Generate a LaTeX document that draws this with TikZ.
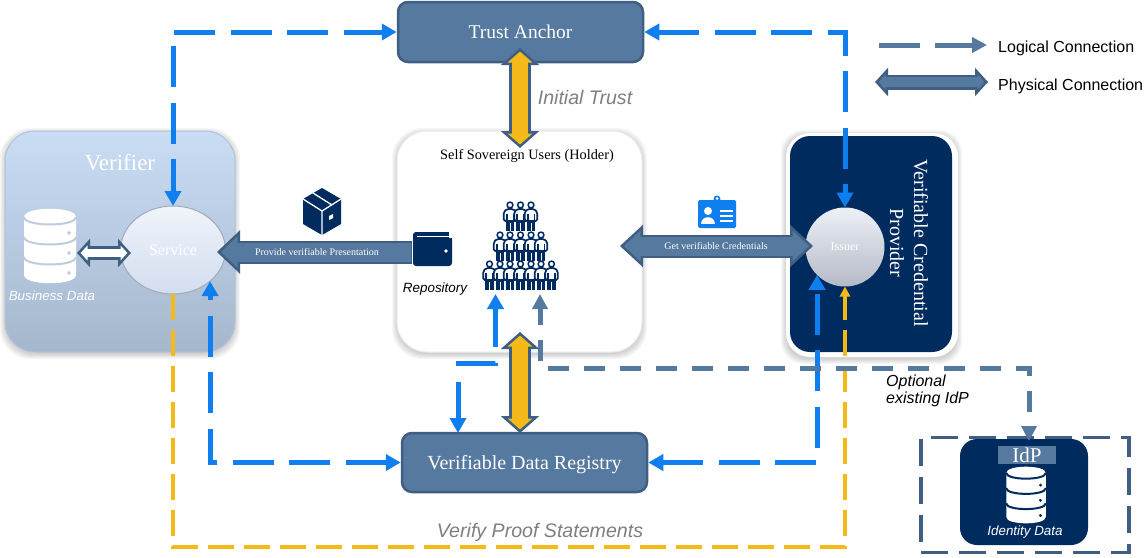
\documentclass[tikz,border=0pt]{standalone}
\usepackage{fontspec}
\setmainfont{Liberation Serif}
\setsansfont{Liberation Sans}
\usetikzlibrary{arrows.meta,calc,shapes.geometric}
\definecolor{navy}{HTML}{002B5F}
\definecolor{steel}{HTML}{55799F}
\definecolor{edge}{HTML}{3F5F82}
\definecolor{blueln}{HTML}{0F7FEF}
\definecolor{gold}{HTML}{F3BA1A}
\definecolor{graytx}{HTML}{7F7F7F}
\newcommand\fs[1]{\fontsize{#1}{#1}\selectfont}
\newcommand\softshadow[5]{\foreach \sk in {1,...,6}{\fill[black,opacity=0.03,rounded corners=#5pt] (#1-\sk+1,#2-\sk+3) rectangle (#3+\sk-1,#4+\sk+1);}}
% two-headed block arrow: fill, edge, outer shaft, inner shaft, head length, head width, path
\newcommand\blockpair[7]{%
 \draw[line width=#3pt,#2,{Triangle[length=#5pt,width=#6pt,fill=#1,line width=2.5pt]}-{Triangle[length=#5pt,width=#6pt,fill=#1,line width=2.5pt]}] #7;
 \draw[line width=#4pt,#1,shorten <=#5pt-6pt,shorten >=#5pt-6pt] #7;}
\newcommand\blockone[7]{%
 \draw[line width=#3pt,#2,-{Triangle[length=#5pt,width=#6pt,fill=#1,line width=2.5pt]}] #7;
 \draw[line width=#4pt,#1,shorten <=1.5pt,shorten >=#5pt-6pt] #7;}
\newcommand\dbicon[3]{% x, y, line colour
 \begin{scope}[shift={(#1,#2)},scale=#3]
 \fill[white] (-26,-29) .. controls (-26,-40) and (26,-40) .. (26,-29) -- (26,29) .. controls (26,40) and (-26,40) .. (-26,29) -- cycle;
 \foreach \dy in {-29,-9,11}{
  \draw[dbline,line width=2pt,fill=none] (-26,\dy) .. controls (-26,\dy+10) and (26,\dy+10) .. (26,\dy);}
 \foreach \dy in {-13,7,27}{\fill[dbline] (19,\dy) circle (1.7);}
 \end{scope}}
\newcommand\person[2]{%
 \begin{scope}[shift={(#1,#2)}]
 \fill[navy] (-4.2,2) rectangle (4.2,15);
 \draw[white,line width=.6pt] (0,7) -- (0,15);
 \draw[navy,fill=white,line width=1.7pt,rounded corners=1.5pt] (-3,-7) -- (3,-7) -- (6.2,-4) -- (6.2,5) -- (-6.2,5) -- (-6.2,-4) -- cycle;
 \draw[navy,line width=1.8pt] (-3.4,-2) -- (-3.4,5) (3.4,-2) -- (3.4,5);
 \draw[navy,fill=white,line width=1.5pt] (0,-11) circle (2.9);
 \end{scope}}
\tikzset{
 x=1pt,y=-1pt,
 boxnode/.style={rectangle,rounded corners=10pt,draw=edge,line width=2.5pt,fill=steel,text=white,inner sep=0pt,text height=13pt,text depth=0pt},
 bluelink/.style={blueln,line width=5pt,dash pattern=on 41pt off 15.5pt,{Triangle[length=15pt,width=16pt]}-{Triangle[length=15pt,width=16pt]}},
 steellink/.style={steel,line width=5pt,dash pattern=on 21pt off 15pt},
 goldlink/.style={gold,line width=3.3pt,dash pattern=on 26pt off 10pt,-{Triangle[length=10pt,width=10pt]}},
 tip15/.style={-{Triangle[length=15pt,width=15pt]}},
 label/.style={inner sep=0pt,font=\sffamily\itshape\fs{13.4}},
 biglabel/.style={inner sep=0pt,font=\sffamily\itshape\fs{19.6},text=graytx},
 legendtext/.style={inner sep=0pt,anchor=west,font=\sffamily\fs{16}},
 dbline/.style={},
}
\begin{document}
\begin{tikzpicture}
\useasboundingbox (0,0) rectangle (1148,557);
\fill[white] (0,0) rectangle (1148,557);
% containers
\softshadow{5}{131}{235}{352}{30}
\softshadow{397}{131}{642}{352}{30}
\softshadow{786}{133}{957}{357}{22}
\node[rectangle,rounded corners=30pt,minimum width=230pt,minimum height=221pt,inner sep=0pt,outer sep=0pt,top color={rgb,255:red,201;green,221;blue,244},bottom color={rgb,255:red,165;green,183;blue,205},draw={rgb,255:red,178;green,195;blue,215},line width=1pt] (verifier) at (120,241.5) {};
\node[rectangle,rounded corners=30pt,minimum width=245pt,minimum height=221pt,fill=white,draw=black!8,line width=1pt,inner sep=0pt,outer sep=0pt] (holder) at (519.5,241.5) {};
\node[rectangle,rounded corners=24pt,minimum width=172pt,minimum height=224pt,fill=white,inner sep=0pt,outer sep=0pt] (vcpouter) at (872,245) {};
\node[rectangle,rounded corners=20pt,minimum width=162pt,minimum height=216pt,fill=navy,inner sep=0pt,outer sep=0pt] (vcp) at (871,244) {};
\node[draw=edge,line width=3.6pt,dash pattern=on 27pt off 11pt,rectangle,minimum width=208pt,minimum height=115pt,inner sep=0pt,outer sep=0pt] (idpbox) at (1025,495) {};
\node[rectangle,rounded corners=17pt,minimum width=128pt,minimum height=106pt,fill=navy,inner sep=0pt,outer sep=0pt] (idpnavy) at (1024,492) {};
\node[rectangle,minimum width=58pt,minimum height=18pt,fill=steel,inner sep=0pt,text=white,font=\fs{21}] (idplabel) at (1027,455) {IdP};
% main boxes
\node[boxnode,font=\fs{19.5},minimum width=245pt,minimum height=60pt] (trust) at (520.5,32) {Trust Anchor};
\node[boxnode,font=\fs{20},minimum width=245pt,minimum height=59pt] (vdr) at (524.5,462.5) {Verifiable Data Registry};
% service and issuer
\node[ellipse,minimum width=105pt,minimum height=88pt,inner sep=0pt,outer sep=0pt,top color={rgb,255:red,240;green,244;blue,251},bottom color={rgb,255:red,210;green,221;blue,239},draw={rgb,255:red,160;green,170;blue,185},line width=1pt,text=white,font=\fs{16}] (service) at (173,250) {Service};
\node[circle,minimum size=79pt,inner sep=0pt,outer sep=0pt,top color={rgb,255:red,238;green,240;blue,246},bottom color={rgb,255:red,180;green,186;blue,200},text=white,font=\fs{12}] (issuer) at (845,247) {Issuer};
% icons
\tikzset{dbline/.style={draw={rgb,255:red,190;green,204;blue,222},fill={rgb,255:red,190;green,204;blue,222}}}
\dbicon{50}{246}{1}
\tikzset{dbline/.style={draw=navy,fill=navy}}
\dbicon{1026}{495}{.76}
\node[label,text=white] (bizlabel) at (52,296) {Business Data};
\node[label,text=white] (idlabel) at (1025,532) {Identity Data};
% free ends
\coordinate (uBlue) at (495.5,294);
\coordinate (uBlueC) at (495.5,363.5);
\coordinate (uBlueL) at (458,363.5);
\coordinate (vBlue) at (458,433);
\coordinate (uSteel) at (540,294);
\coordinate (uSteelC) at (540,368);
\coordinate (idpC) at (1029,368);
\coordinate (idpTip) at (1029,441);
\coordinate (yelA) at (173,547);
\coordinate (yelB) at (845,547);
% logical links
\draw[bluelink,dash phase=2pt] (trust.west) -| (service.north);
\draw[bluelink] (trust.east) -| (issuer.north);
\draw[bluelink] (vdr.west) -| (service.-40);
\draw[bluelink] (vdr.east) -| (issuer.225);
\draw[bluelink,dash phase=4pt] (vBlue) -- (uBlueL) -- (uBlueC) -- (uBlue);
\draw[goldlink] (service.south) -- (yelA) -- (yelB) -- (issuer.south);
\draw[steellink,dash phase=4pt,{Triangle[length=15pt,width=15pt]}-{Triangle[length=15pt,width=15pt]}] (uSteel) -- (uSteelC) -- (idpC) -- (idpTip);
% physical links
\coordinate (trustTip) at (520,48);
\coordinate (holderTipT) at (520,148);
\coordinate (holderTipB) at (520,332);
\coordinate (vdrTip) at (520,433);
\blockpair{gold}{edge}{22}{16}{17}{38}{(trustTip) -- (holderTipT)}
\blockpair{gold}{edge}{22}{16}{17}{38}{(holderTipB) -- (vdrTip)}
\coordinate (dbEnd) at (77,253);
\coordinate (svEnd) at (131,253);
\blockpair{white}{edge}{14}{8}{13}{28}{(dbEnd) -- (svEnd)}
\coordinate (wEnd) at (412,252);
\coordinate (svTip) at (217,252);
\blockone{steel}{edge}{23}{19}{23}{43}{(wEnd) -- (svTip)}
\coordinate (getL) at (620,246);
\coordinate (getR) at (813,246);
\blockpair{steel}{edge}{23}{19}{23}{42}{(getL) -- (getR)}
\node[inner sep=0pt,text=white,font=\fs{10}] (presentLabel) at (317,252.5) {Provide verifiable Presentation};
\node[inner sep=0pt,text=white,font=\fs{10}] (getLabel) at (716,246.5) {Get verifiable Credentials};
% titles
\node[inner sep=0pt,text=white,font=\fs{23}] (verifierTitle) at (120,163) {Verifier};
\node[inner sep=0pt,font=\fs{14.3}] (holderTitle) at (527,156) {Self Sovereign Users (Holder)};
\node[inner sep=0pt,text=white,font=\fs{20},rotate=-90,align=center] (vcpTitle) at (909,243) {Verifiable Credential\\[4pt]Provider};
\node[biglabel] (initial) at (585,97) {Initial Trust};
\node[biglabel] (verifyproof) at (540,532) {Verify Proof Statements};
\node[label] (repo) at (435,289) {Repository};
\node[label,font=\sffamily\itshape\fs{16},align=left,anchor=north west] (optional) at (886,375) {Optional\\[1pt]existing IdP};
% cube icon
\fill[navy] (322,188) -- (341,199) -- (341,224) -- (322,235) -- (303,224) -- (303,199) -- cycle;
\draw[white,line width=1.3pt] (303,199) -- (322,211) -- (341,199) (322,211) -- (322,235) (313,193) -- (332,205);
\fill[white] (329,216) -- (333,214) -- (333,218) -- (329,220) -- cycle;
% wallet icon
\fill[navy,rounded corners=3pt] (413,232) rectangle (452,266);
\fill[white] (449,231) rectangle (453,238);
\draw[white,line width=1.2pt] (417,236.5) -- (449,236.5);
\fill[white] (446,251) circle (1.8);
% id card icon
\fill[blueln,rounded corners=1.5pt] (698,200) rectangle (736,228);
\fill[blueln] (717,199) circle (3.5);
\fill[white] (717,198.5) circle (1.5);
\fill[white] (708,211) circle (4);
\fill[white] (701,224) .. controls (701,215) and (715,215) .. (715,224) -- cycle;
\draw[white,line width=1.6pt] (720,211) -- (733,211) (720,216) -- (733,216) (720,221) -- (733,221);
% people
\foreach \px in {510,520.5,531}{\person{\px}{216}}
\foreach \px in {500,510,520.5,531,541}{\person{\px}{246}}
\foreach \px in {489.5,500,510,520.5,531,541,551.5}{\person{\px}{275}}
% legend
\coordinate (lgA) at (879,45);
\coordinate (lgB) at (987,45);
\draw[steel,line width=5pt,dash pattern=on 41pt off 15pt,tip15] (lgA) -- (lgB);
\coordinate (lgC) at (875,82);
\coordinate (lgD) at (988,82);
\blockpair{steel}{edge}{15}{10}{13}{28}{(lgC) -- (lgD)}
\node[legendtext] (lgLogical) at (998,48) {Logical Connection};
\node[legendtext] (lgPhysical) at (998,86) {Physical Connection};
\end{tikzpicture}
\end{document}
